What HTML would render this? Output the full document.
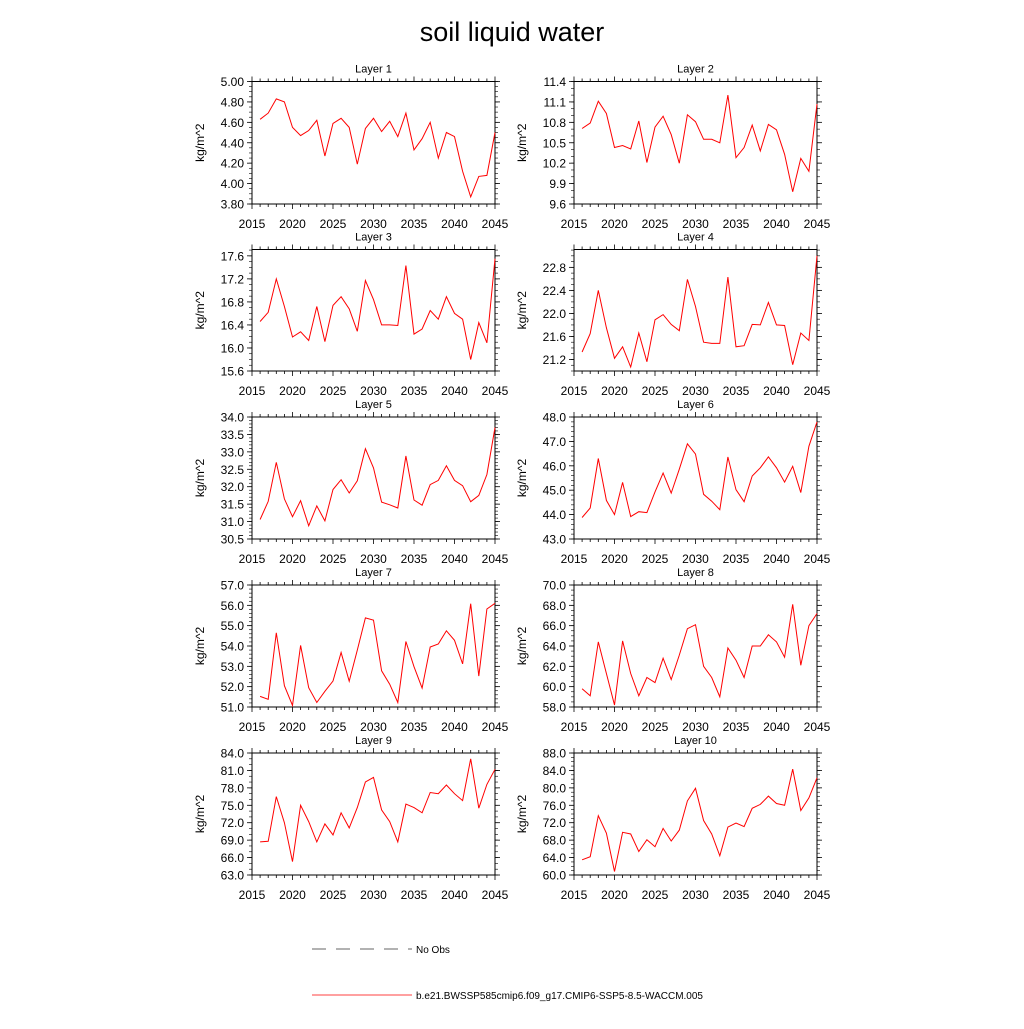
<!DOCTYPE html>
<html><head><meta charset="utf-8"><style>
body{margin:0;background:#fff;}
svg text{font-family:"Liberation Sans",sans-serif;fill:#000;}
</style></head><body>
<svg id="c" width="1024" height="1024" xmlns="http://www.w3.org/2000/svg">
<text x="512" y="41" text-anchor="middle" font-size="27">soil liquid water</text>
<g>
<line x1="312" y1="949" x2="412" y2="949" stroke="#333" stroke-width="0.8" stroke-dasharray="14,10"/>
<text x="416" y="953" font-size="10">No Obs</text>
<line x1="312" y1="995" x2="412" y2="995" stroke="#f00" stroke-width="0.7"/>
<text x="416" y="999" font-size="10">b.e21.BWSSP585cmip6.f09_g17.CMIP6-SSP5-8.5-WACCM.005</text>
</g>
</svg>
<script>
const years=[];for(let y=2016;y<=2045;y++)years.push(y);
const xTicks=[2015,2020,2025,2030,2035,2040,2045];
const L1=[4.63,4.69,4.83,4.80,4.55,4.47,4.52,4.62,4.27,4.59,4.64,4.55,4.19,4.54,4.64,4.51,4.61,4.46,4.69,4.33,4.44,4.60,4.25,4.50,4.46,4.12,3.87,4.07,4.08,4.50];
const L2=[10.71,10.79,11.11,10.93,10.43,10.46,10.41,10.82,10.21,10.73,10.89,10.62,10.20,10.91,10.81,10.55,10.55,10.50,11.20,10.28,10.43,10.76,10.38,10.77,10.69,10.33,9.78,10.27,10.08,11.07];
const L3=[16.46,16.62,17.20,16.72,16.19,16.28,16.13,16.72,16.11,16.74,16.89,16.68,16.29,17.17,16.84,16.40,16.40,16.39,17.43,16.24,16.33,16.65,16.50,16.89,16.60,16.50,15.80,16.44,16.09,17.55];
const L4=[21.33,21.65,22.40,21.75,21.22,21.42,21.07,21.66,21.16,21.89,21.98,21.81,21.70,22.59,22.12,21.50,21.48,21.48,22.63,21.42,21.44,21.81,21.80,22.19,21.80,21.79,21.11,21.66,21.53,23.00];
const L5=[31.06,31.58,32.70,31.65,31.14,31.60,30.88,31.45,31.02,31.92,32.20,31.82,32.17,33.09,32.54,31.56,31.48,31.39,32.88,31.62,31.47,32.06,32.18,32.60,32.18,32.03,31.57,31.75,32.35,33.70];
const L6=[43.88,44.27,46.30,44.58,44.00,45.32,43.92,44.12,44.08,44.93,45.70,44.88,45.86,46.90,46.48,44.83,44.55,44.20,46.36,45.02,44.53,45.58,45.92,46.37,45.92,45.33,45.98,44.90,46.80,47.80];
const L7=[51.52,51.38,54.65,52.05,51.08,54.03,51.95,51.22,51.77,52.28,53.68,52.27,53.80,55.38,55.27,52.78,52.12,51.22,54.22,52.98,51.93,53.95,54.10,54.75,54.28,53.12,56.08,52.52,55.82,56.10];
const L8=[59.8,59.1,64.4,61.3,58.2,64.5,61.3,59.1,60.9,60.4,62.8,60.7,63.1,65.7,66.1,62.0,60.9,59.0,63.8,62.6,60.9,64.0,64.0,65.1,64.4,62.9,68.1,62.1,66.0,67.2];
const L9=[68.7,68.8,76.5,72.0,65.3,75.0,72.2,68.7,71.8,69.9,73.7,71.1,74.6,79.0,79.8,74.2,72.2,68.7,75.2,74.6,73.7,77.2,77.0,78.5,77.0,75.8,83.0,74.5,78.6,81.2];
const L10=[63.5,64.2,73.6,69.6,60.8,69.8,69.4,65.4,68.1,66.5,70.7,67.8,70.3,77.0,79.9,72.5,69.4,64.4,71.0,71.9,71.1,75.3,76.2,78.1,76.4,76.0,84.3,74.8,77.7,82.3];
const series=[L1,L2,L3,L4,L5,L6,L7,L8,L9,L10];
const yMins=[3.8,9.6,15.6,21.0,30.5,43,51,58,63,60];
const yMaxs=[5.0,11.4,17.71,23.11,34,48,57,70,84,88];
const yTickStart=[3.8,9.6,15.6,21.2,30.5,43,51,58,63,60];
const yTickStep=[0.2,0.3,0.4,0.4,0.5,1,1,2,3,4];
const yTickEnd=[5.0,11.4,17.6,22.8,34,48,57,70,84,88];
const yDecimals=[2,1,1,1,1,1,1,1,1,1];
const yMinorPer=[4,3,4,4,5,5,5,4,3,4];

const svg=document.getElementById('c');
const NS='http://www.w3.org/2000/svg';
function mk(tag,attrs,parent){const e=document.createElementNS(NS,tag);for(const k in attrs)e.setAttribute(k,attrs[k]);parent.appendChild(e);return e;}
const colsX=[[252,495],[574,817]];
const rowsY=[[81.5,204],[249.5,371],[417,539],[585,707],[753,875]];
for(let i=0;i<10;i++){
  const [x0,x1]=colsX[i%2];const [y0,y1]=rowsY[Math.floor(i/2)];
  const g=mk('g',{},svg);
  
  
  const xs=v=>x0+(v-2015)/(2045-2015)*(x1-x0);
  const ys=v=>y1-(v-yMins[i])/(yMaxs[i]-yMins[i])*(y1-y0);
  const t=mk('text',{x:(x0+x1)/2,y:y0-9,'text-anchor':'middle','font-size':11},g);t.textContent='Layer '+(i+1);
  
  
  for(let yr=2015;yr<=2045;yr++){
    const X=xs(yr);const major=xTicks.includes(yr);const L=major?5:3;
    mk('line',{x1:X,y1:y1,x2:X,y2:y1+L,stroke:'#000','stroke-width':0.8},g);
    mk('line',{x1:X,y1:y0,x2:X,y2:y0-L,stroke:'#000','stroke-width':0.8},g);
  }
  xTicks.forEach(v=>{const tx=mk('text',{x:xs(v),y:y1+24,'text-anchor':'middle','font-size':12},g);tx.textContent=v;
    
    });
  const st=yTickStep[i],mn=st/yMinorPer[i];
  for(let v=yTickStart[i]-st;v<=yMaxs[i]+1e-9;v+=mn){
    if(v<yMins[i]-1e-9)continue;const Y=ys(v);
    mk('line',{x1:x0,y1:Y,x2:x0-3,y2:Y,stroke:'#000','stroke-width':0.6},g);
    mk('line',{x1:x1,y1:Y,x2:x1+3,y2:Y,stroke:'#000','stroke-width':0.6},g);
  }
  for(let v=yTickStart[i];v<=yTickEnd[i]+1e-9;v+=st){
    const Y=ys(v);
    mk('line',{x1:x0,y1:Y,x2:x0-5,y2:Y,stroke:'#000','stroke-width':0.8},g);
    mk('line',{x1:x1,y1:Y,x2:x1+5,y2:Y,stroke:'#000','stroke-width':0.8},g);
    const ty=mk('text',{x:x0-8,y:Y+4.5,'text-anchor':'end','font-size':12},g);ty.textContent=v.toFixed(yDecimals[i]);
    
    
  }
  const yt=mk('text',{x:0,y:0,'text-anchor':'middle','font-size':12,transform:`translate(${x0-48},${(y0+y1)/2}) rotate(-90)`},g);yt.textContent='kg/m^2';
  
  
  const fr=mk('rect',{x:x0,y:y0,width:x1-x0,height:y1-y0,fill:'none',stroke:'#000','stroke-width':1},g);
  
  
  const pts=series[i].map((v,k)=>xs(years[k]).toFixed(1)+','+ys(v).toFixed(1)).join(' ');
  const pl=mk('polyline',{points:pts,fill:'none',stroke:'#f00','stroke-width':1},g);
  
  
}
</script>
</body></html>
